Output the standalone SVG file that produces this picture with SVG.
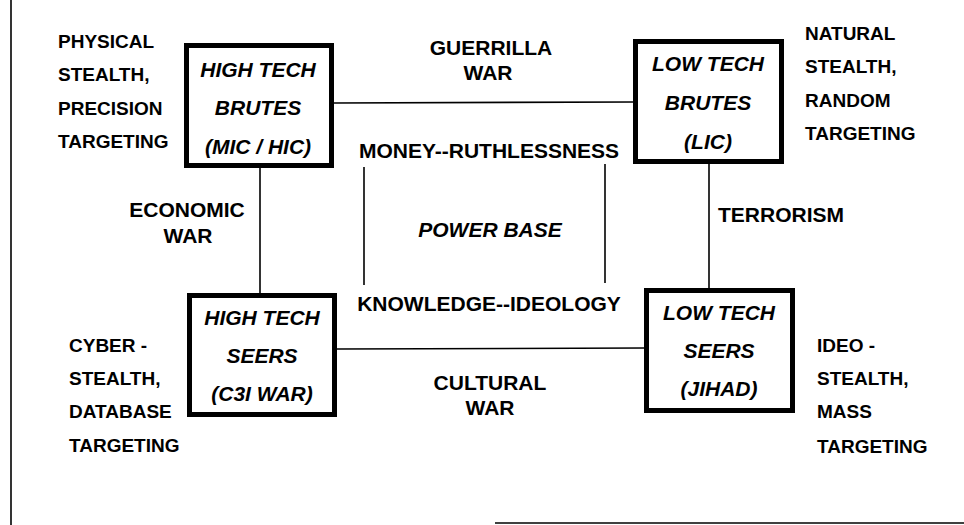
<svg xmlns="http://www.w3.org/2000/svg" width="964" height="525" viewBox="0 0 964 525">
<style>
.box{fill:#fff;stroke:#000;stroke-width:5}
.bt{font-family:"Liberation Sans",Arial,sans-serif;font-weight:bold;font-style:italic;font-size:21px;text-anchor:middle;fill:#000}
.lbl{font-family:"Liberation Sans",Arial,sans-serif;font-weight:bold;font-size:21px;text-anchor:middle;fill:#000}
.side{font-family:"Liberation Sans",Arial,sans-serif;font-weight:bold;font-size:19px;fill:#000}
.ln{stroke:#000;stroke-width:1.6;fill:none}
</style>
<rect width="964" height="525" fill="#fff"/>
<g id="frame">
<line class="ln" x1="11" y1="0" x2="11" y2="525" stroke-width="2"/>
<line class="ln" x1="495" y1="523" x2="964" y2="523" stroke-width="2"/>
</g>
<g id="connectors">
<line class="ln" x1="334" y1="103" x2="633" y2="102"/>
<line class="ln" x1="260" y1="168" x2="260" y2="293"/>
<line class="ln" x1="709" y1="164" x2="709" y2="288"/>
<line class="ln" x1="337" y1="349" x2="644" y2="348"/>
<line class="ln" x1="364" y1="167" x2="364" y2="285"/>
<line class="ln" x1="605" y1="164" x2="605" y2="283"/>
</g>
<g id="node-high-tech-brutes">
<rect class="box" x="186.5" y="45.5" width="145" height="120"/>
<text class="bt" x="258" y="77">HIGH TECH</text>
<text class="bt" x="258" y="115">BRUTES</text>
<text class="bt" x="258" y="154">(MIC / HIC)</text>
</g>
<g id="node-low-tech-brutes">
<rect class="box" x="635.5" y="41.5" width="146" height="120"/>
<text class="bt" x="708" y="71">LOW TECH</text>
<text class="bt" x="708" y="110">BRUTES</text>
<text class="bt" x="708" y="149">(LIC)</text>
</g>
<g id="node-high-tech-seers">
<rect class="box" x="189.5" y="295.5" width="145" height="119"/>
<text class="bt" x="262" y="325">HIGH TECH</text>
<text class="bt" x="262" y="363">SEERS</text>
<text class="bt" x="262" y="401">(C3I WAR)</text>
</g>
<g id="node-low-tech-seers">
<rect class="box" x="646.5" y="290.5" width="146" height="120"/>
<text class="bt" x="719" y="320">LOW TECH</text>
<text class="bt" x="719" y="358">SEERS</text>
<text class="bt" x="719" y="396">(JIHAD)</text>
</g>
<g id="labels">
<text class="lbl" x="491" y="55">GUERRILLA</text>
<text class="lbl" x="488" y="80">WAR</text>
<text class="lbl" x="489" y="158">MONEY--RUTHLESSNESS</text>
<text class="bt" x="490" y="237">POWER BASE</text>
<text class="lbl" x="489" y="311">KNOWLEDGE--IDEOLOGY</text>
<text class="lbl" x="490" y="390">CULTURAL</text>
<text class="lbl" x="490" y="415">WAR</text>
<text class="lbl" x="187" y="217">ECONOMIC</text>
<text class="lbl" x="188" y="243">WAR</text>
<text class="lbl" x="781" y="222">TERRORISM</text>
</g>
<g id="side-labels">
<text class="side" x="58" y="48">PHYSICAL</text>
<text class="side" x="58" y="81">STEALTH,</text>
<text class="side" x="58" y="115">PRECISION</text>
<text class="side" x="58" y="148">TARGETING</text>
<text class="side" x="805" y="40">NATURAL</text>
<text class="side" x="805" y="73">STEALTH,</text>
<text class="side" x="805" y="107">RANDOM</text>
<text class="side" x="805" y="140">TARGETING</text>
<text class="side" x="69" y="352">CYBER -</text>
<text class="side" x="69" y="385">STEALTH,</text>
<text class="side" x="69" y="418">DATABASE</text>
<text class="side" x="69" y="452">TARGETING</text>
<text class="side" x="817" y="352">IDEO -</text>
<text class="side" x="817" y="385">STEALTH,</text>
<text class="side" x="817" y="418">MASS</text>
<text class="side" x="817" y="453">TARGETING</text>
</g>
</svg>
